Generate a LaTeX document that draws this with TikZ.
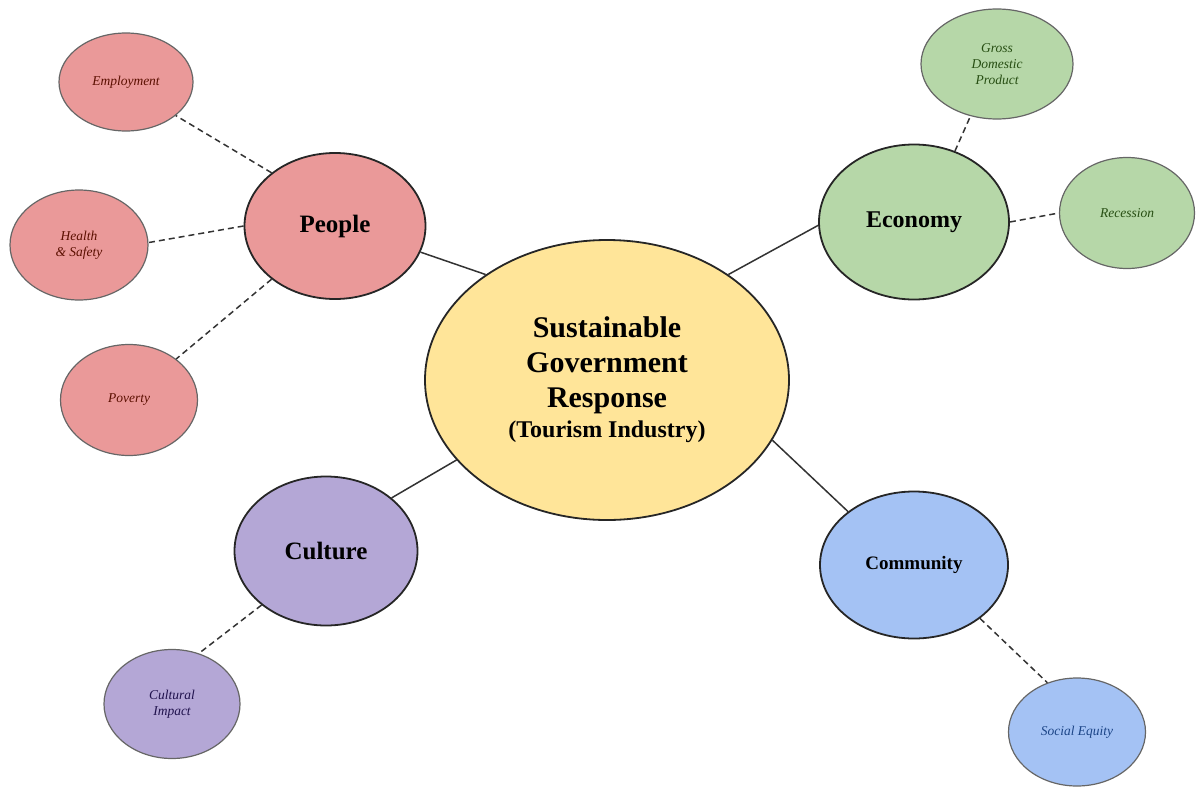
\documentclass[tikz,border=0pt]{standalone}
\usepackage{fontspec}
\setmainfont{Liberation Serif}
\usetikzlibrary{shapes.geometric}

\definecolor{peoplefill}{HTML}{EA9999}
\definecolor{econfill}{HTML}{B6D7A8}
\definecolor{culturefill}{HTML}{B4A7D6}
\definecolor{commfill}{HTML}{A4C2F4}
\definecolor{corefill}{HTML}{FFE599}
\definecolor{peopletext}{HTML}{5B0F00}
\definecolor{econtext}{HTML}{274E13}
\definecolor{culturetext}{HTML}{20124D}
\definecolor{commtext}{HTML}{1C4587}

\begin{document}
\begin{tikzpicture}[x=1pt,y=-1pt,
	bubble/.style={ellipse, draw=black!85, line width=1.8pt, inner sep=0pt, align=center,
		font=\fontsize{25}{29}\selectfont\bfseries},
	leaf/.style={ellipse, draw=black!60, line width=1.2pt, inner sep=0pt, align=center,
		font=\fontsize{13.5}{16}\selectfont\itshape},
	link/.style={line width=1.5pt, draw=black!80},
	dashlink/.style={line width=1.5pt, draw=black!80, dash pattern=on 6pt off 4pt}]

		\useasboundingbox (0,0) rectangle (1196,787);

		% centre
		\node [bubble, fill=corefill, minimum width=364pt, minimum height=280pt,
			font=\fontsize{30}{35}\selectfont\bfseries] (core) at (607,380)
			{Sustainable\\Government\\Response\\[-5pt]{\fontsize{24}{28}\selectfont(Tourism Industry)}};

		% main topics
		\node [bubble, fill=peoplefill, minimum width=181pt, minimum height=146pt] (people) at (335,226) {People};
		\node [bubble, fill=econfill, minimum width=190pt, minimum height=155pt,
			font=\fontsize{24}{28}\selectfont\bfseries] (economy) at (914,222) {Economy};
		\node [bubble, fill=culturefill, minimum width=183pt, minimum height=149pt] (culture) at (326,551) {Culture};
		\node [bubble, fill=commfill, minimum width=188pt, minimum height=147pt,
			font=\fontsize{19}{23}\selectfont\bfseries] (community) at (914,565) {Community};

		% sub topics
		\node [leaf, fill=peoplefill, text=peopletext, minimum width=134pt, minimum height=98pt] (employ) at (126,82) {Employment};
		\node [leaf, fill=peoplefill, text=peopletext, minimum width=138pt, minimum height=110pt] (health) at (79,245) {Health\\\& Safety};
		\node [leaf, fill=peoplefill, text=peopletext, minimum width=137pt, minimum height=111pt] (poverty) at (129,400) {Poverty};
		\node [leaf, fill=econfill, text=econtext, minimum width=152pt, minimum height=110pt] (gdp) at (997,64) {Gross\\Domestic\\Product};
		\node [leaf, fill=econfill, text=econtext, minimum width=135pt, minimum height=111pt] (recession) at (1127,213) {Recession};
		\node [leaf, fill=culturefill, text=culturetext, minimum width=136pt, minimum height=109pt] (impact) at (172,704) {Cultural\\Impact};
		\node [leaf, fill=commfill, text=commtext, minimum width=137pt, minimum height=108pt] (equity) at (1077,732) {Social Equity};

		% links to centre
		\draw [link] (people.-17) -- (core.139);
		\draw [link] (economy.182) -- (core.41);
		\draw [link] (culture.39) -- (core.208);
		\draw [link] (community.141) -- (core.-20);

		% dashed links
		\draw [dashlink] (people.140) -- (employ.-34);
		\draw [dashlink] (people.180) -- (health.2);
		\draw [dashlink] (people.220) -- (poverty.41);
		\draw [dashlink] (economy.60) -- (gdp.-117);
		\draw [dashlink] (economy.0) -- (recession.180);
		\draw [dashlink] (culture.220) -- (impact.62);
		\draw [dashlink] (community.-39) -- (equity.121);

\end{tikzpicture}
\end{document}
